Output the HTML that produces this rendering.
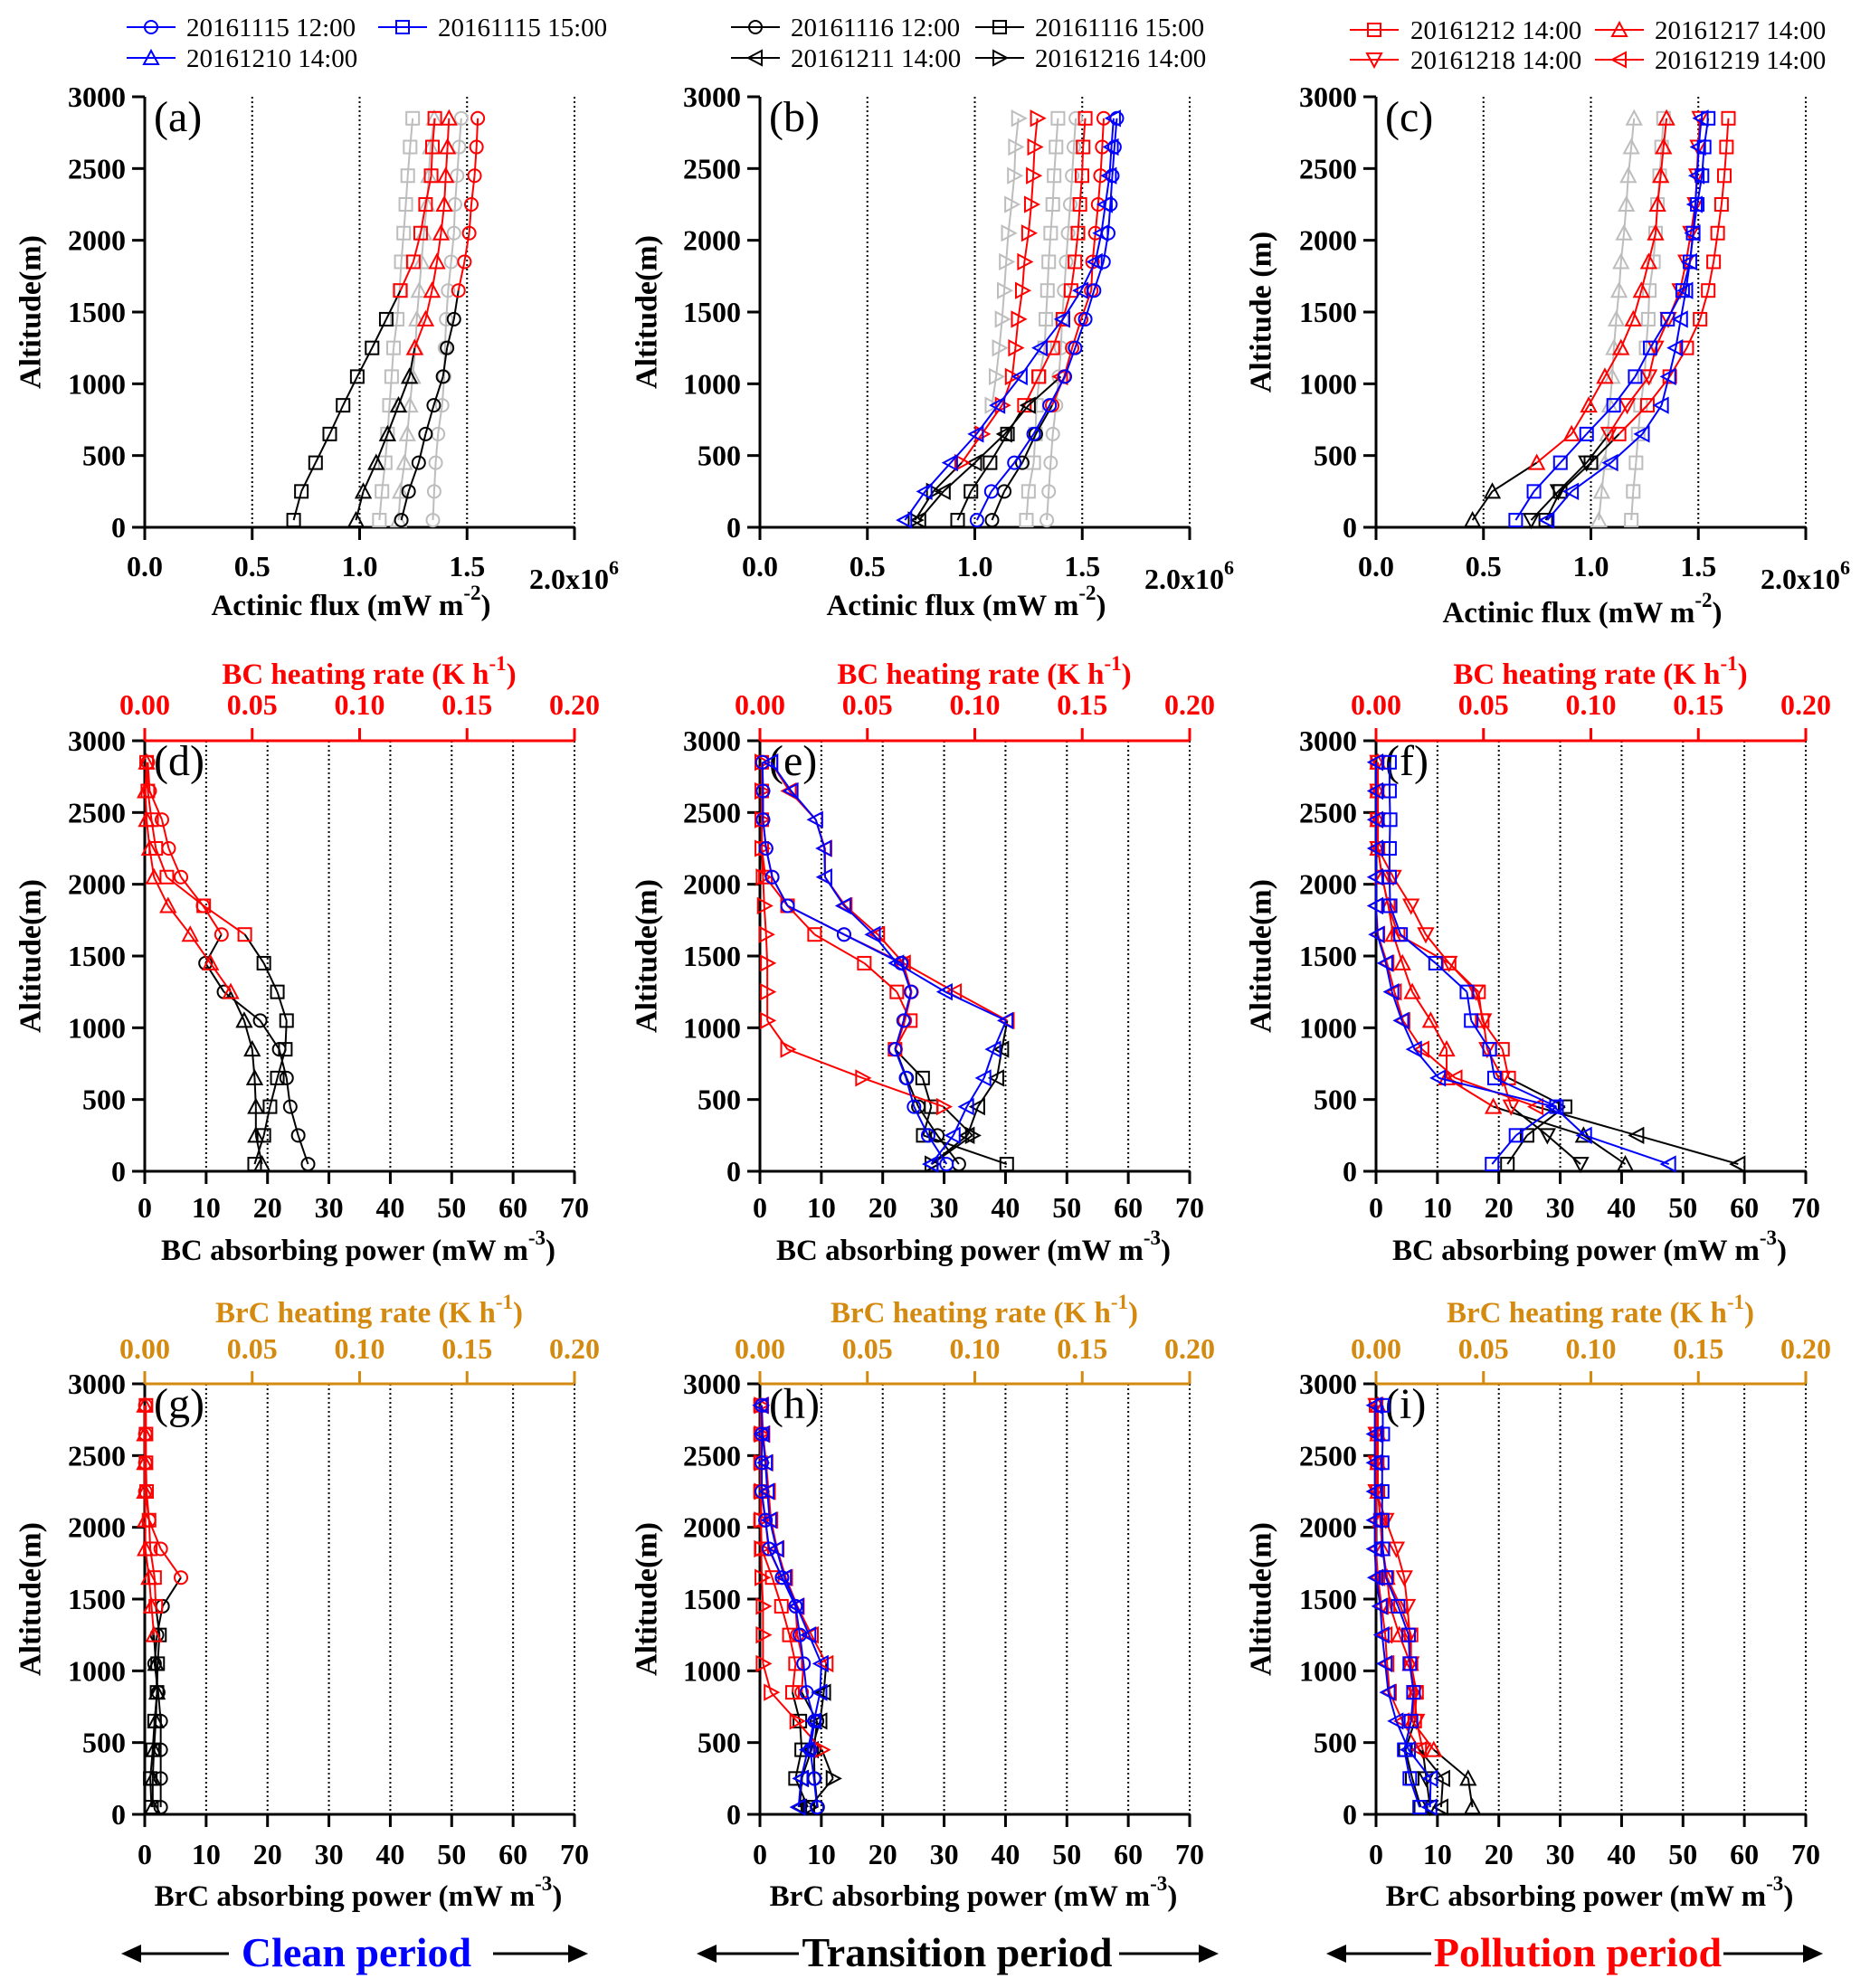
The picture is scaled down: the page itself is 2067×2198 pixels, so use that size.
<!DOCTYPE html>
<html><head><meta charset="utf-8">
<style>
html,body{margin:0;padding:0;background:#fff;}
svg{display:block;}
text{font-family:"Liberation Serif","Times New Roman",serif;}
</style></head>
<body>
<svg id="fig" xmlns="http://www.w3.org/2000/svg" width="2067" height="2198" viewBox="0 0 2067 2198"></svg>
<script>
// ---------- data ----------
const altitudes = [50,250,450,650,850,1050,1250,1450,1650,1850,2050,2250,2450,2650,2850];
const fluxTicks = [0.0,0.5,1.0,1.5];
const fluxTickLabels = ["0.0","0.5","1.0","1.5"];
const powerTicks = [0,10,20,30,40,50,60,70];
const powerTickLabels = ["0","10","20","30","40","50","60","70"];
const heatTicks = [0,0.05,0.10,0.15,0.20];
const heatTickLabels = ["0.00","0.05","0.10","0.15","0.20"];
const altTicks = [0,500,1000,1500,2000,2500,3000];
const altTickLabels = ["0","500","1000","1500","2000","2500","3000"];

// panel a (actinic flux x1e6)
const a_square = [0.693,0.729,0.795,0.861,0.923,0.989,1.058,1.124,1.19,1.25,1.284,1.307,1.333,1.339,1.35];
const a_triangle = [0.983,1.017,1.077,1.13,1.181,1.232,1.256,1.307,1.337,1.36,1.379,1.394,1.401,1.409,1.416];
const a_circle = [1.194,1.228,1.275,1.307,1.345,1.388,1.407,1.439,1.46,1.488,1.51,1.52,1.535,1.544,1.55];
const a_gray_square = [1.092,1.104,1.119,1.13,1.139,1.149,1.158,1.175,1.186,1.194,1.205,1.215,1.224,1.235,1.247];
const a_gray_triangle = [1.181,1.19,1.209,1.222,1.234,1.247,1.26,1.266,1.277,1.288,1.299,1.313,1.322,1.33,1.347];
const a_gray_circle = [1.341,1.347,1.354,1.365,1.384,1.394,1.397,1.403,1.412,1.426,1.439,1.444,1.454,1.463,1.473];

// panel b
const b_blue_circle = [1.01,1.077,1.184,1.274,1.348,1.419,1.467,1.514,1.555,1.599,1.621,1.631,1.64,1.65,1.661];
const b_circle = [1.08,1.137,1.221,1.284,1.36,1.416,1.453,1.495,1.542,1.548,1.561,1.574,1.585,1.593,1.6];
const b_square = [0.92,0.982,1.071,1.152,1.231,1.297,1.363,1.41,1.448,1.466,1.48,1.489,1.499,1.504,1.514];
const b_blue_left = [0.675,0.769,0.888,1.008,1.108,1.212,1.306,1.41,1.495,1.561,1.589,1.608,1.627,1.636,1.646];
const b_left = [0.74,0.854,1.0,1.14,1.25,1.4,null,null,null,null,null,null,null,null,null];
const b_right = [0.722,0.807,0.939,1.033,1.127,1.174,1.189,1.202,1.221,1.231,1.25,1.263,1.272,1.278,1.291];
const b_gray_square = [1.24,1.25,1.274,1.282,1.287,1.301,1.325,1.331,1.338,1.344,1.353,1.363,1.369,1.378,1.387];
const b_gray_circle = [1.335,1.344,1.353,1.363,1.378,1.391,1.401,1.406,1.416,1.425,1.434,1.444,1.453,1.461,1.47];
const b_gray_right = [null,null,null,null,1.08,1.099,1.114,1.127,1.137,1.146,1.156,1.171,1.184,1.189,1.203];

// panel c
const c_square = [0.79,0.857,1.0,1.131,1.263,1.367,1.446,1.508,1.546,1.571,1.59,1.608,1.621,1.631,1.64];
const c_blue_square = [0.65,0.735,0.858,0.98,1.106,1.206,1.276,1.357,1.427,1.461,1.476,1.495,1.517,1.527,1.546];
const c_up = [0.449,0.541,0.748,0.91,0.99,1.065,1.14,1.197,1.235,1.269,1.301,1.31,1.325,1.338,1.352];
const c_down = [0.722,0.848,0.98,1.084,1.169,1.27,1.301,1.36,1.415,1.443,1.465,1.486,1.493,1.499,1.508];
const c_blue_left = [0.797,0.91,1.093,1.24,1.329,1.363,1.395,1.418,1.442,1.461,1.476,1.486,1.495,1.502,1.514];
const c_gray_up = [1.037,1.05,1.065,1.078,1.088,1.099,1.107,1.118,1.131,1.14,1.154,1.165,1.174,1.188,1.201];
const c_gray_square = [1.188,1.197,1.21,1.22,1.231,1.25,1.257,1.267,1.272,1.291,1.301,1.31,1.32,1.329,1.338];

// panel d (BC absorbing power)
const d_circle = [26.6,25.0,23.7,23.1,21.9,18.8,12.9,9.9,12.5,9.5,5.9,3.9,2.8,0.8,0.5];
const d_square = [17.9,19.4,20.4,21.6,22.9,23.1,21.6,19.4,16.3,9.6,3.6,1.8,1.1,0.5,0.3];
const d_triangle = [19.1,18.1,18.1,17.9,17.5,16.2,14.0,10.7,7.4,3.8,1.5,0.8,0.3,0.1,0.3];

// panel e
const e_blue_circle = [30.4,27.4,25.1,23.8,22.0,23.4,24.6,23.0,13.7,4.5,2.0,1.0,0.5,0.5,0.4];
const e_circle = [32.4,28.9,25.8,23.9,22.1,23.6,24.7,23.3,13.7,4.5,2.0,1.0,0.5,0.5,0.4];
const e_square = [40.2,26.6,27.9,26.5,22.0,24.5,22.3,17.0,8.9,4.5,0.9,0.3,0.3,0.3,0.3];
const e_left = [27.9,33.8,35.5,38.6,39.4,40.3,31.7,23.4,19.2,13.9,10.6,10.6,9.1,4.8,1.8];
const e_blue_left = [27.9,31.5,33.7,36.5,38.1,40.1,30.2,22.3,18.5,13.7,10.6,10.5,9.1,5.1,1.8];
const e_right = [28.0,34.6,29.9,16.7,4.5,1.2,1.2,1.2,1.0,0.7,0.5,0.3,0.3,0.3,0.3];

// panel f
const f_square = [21.4,24.6,30.8,21.6,20.6,17.3,16.7,11.9,3.6,2.0,1.0,0.3,0.2,0.2,0.2];
const f_blue_square = [18.9,22.8,29.4,19.3,18.5,15.5,14.8,9.7,4.0,2.3,2.2,2.2,2.3,2.2,2.2];
const f_up = [40.6,33.8,19.1,11.5,11.5,8.9,5.9,4.3,2.8,2.0,1.0,0.3,0.3,0.3,0.3];
const f_down = [33.3,27.9,22.0,20.6,18.1,17.5,16.3,11.9,8.1,5.7,2.8,0.3,0.3,0.3,0.3];
const f_left = [59.0,42.5,26.1,12.9,7.5,4.4,3.0,1.8,0.3,0.0,0.0,0.0,0.0,0.0,0.0];
const f_blue_left = [47.7,34.0,29.0,10.2,6.3,4.2,2.6,1.6,0.2,0.0,0.0,0.0,0.0,0.0,0.0];

// panel g (BrC absorbing power)
const g_circle = [2.6,2.6,2.6,2.6,2.2,1.6,2.0,2.9,5.9,2.6,0.7,0.1,0.1,0.1,0.1];
const g_square = [1.1,0.9,1.3,1.6,2.0,2.1,2.4,1.8,1.6,0.9,0.7,0.3,0.2,0.2,0.2];
const g_triangle = [1.3,1.3,1.5,1.8,2.0,1.8,1.5,1.1,0.7,0.1,0.1,0.0,0.0,0.0,0.0];

// panel h
const h_blue_circle = [9.3,8.8,8.2,8.9,7.6,7.1,6.5,5.8,3.6,1.5,0.9,0.3,0.3,0.3,0.3];
const h_circle = [9.4,8.9,8.8,9.3,6.8,7.1,6.1,5.8,3.6,1.4,0.9,0.2,0.2,0.2,0.2];
const h_square = [7.8,5.8,6.8,6.5,5.3,5.8,4.8,3.5,2.0,0.3,0.1,0.1,0.1,0.1,0.1];
const h_left = [6.5,6.8,8.4,9.8,10.4,10.8,8.4,6.1,4.2,2.8,1.8,1.4,1.0,0.5,0.3];
const h_blue_left = [6.3,6.7,7.8,8.8,9.8,10.0,8.0,6.0,4.0,2.7,1.6,1.2,0.9,0.4,0.2];
const h_right = [8.1,11.9,10.1,6.0,1.8,0.5,0.5,0.5,0.3,0.2,0.2,0.2,0.2,0.2,0.2];

// panel i
const i_square = [7.3,5.9,4.8,6.3,6.6,5.7,5.7,4.0,1.8,1.1,0.7,0.3,0.2,0.2,0.0];
const i_blue_square = [7.1,5.5,4.6,5.7,6.1,5.5,5.3,3.6,1.6,1.1,1.0,1.0,1.0,1.1,1.1];
const i_up = [15.7,15.0,9.4,5.9,6.3,5.6,3.8,2.3,1.8,1.0,0.7,0.3,0.3,0.3,0.3];
const i_down = [8.8,8.2,7.6,6.6,6.3,5.7,5.5,5.1,4.6,3.3,1.6,0.0,0.0,0.0,0.0];
const i_left = [10.6,10.9,7.1,4.3,2.2,1.8,1.5,0.9,0.3,0.0,0.0,0.0,0.0,0.0,0.0];
const i_blue_left = [8.8,8.9,5.3,3.3,2.0,1.5,1.0,0.7,0.0,-0.2,-0.2,-0.2,-0.2,-0.2,-0.2];

// ---------- drawing ----------
const NS = "http://www.w3.org/2000/svg";
const svg = document.getElementById("fig");
const COL = {k:"#000000", r:"#ff0000", b:"#0000ff", g:"#bdbdbd"};
const BRC = "#d4890f";
const W = 475;
const ROWS = [{yt:107,yb:583},{yt:819,yb:1295},{yt:1530,yb:2006}];
const COLS = [160,840,1521];

function mk(tag, attrs, parent){
  const e = document.createElementNS(NS, tag);
  for (const k in attrs) e.setAttribute(k, attrs[k]);
  (parent || svg).appendChild(e);
  return e;
}
function txt(x, y, str, size, opts, parent){
  const e = mk("text", Object.assign({x:x, y:y, "font-size":size}, opts||{}), parent);
  e.textContent = str;
  return e;
}

function marker(g, type, x, y, color){
  const r = 7;
  let e;
  if (type === "circle") e = mk("circle", {cx:x, cy:y, r:r}, g);
  else if (type === "square") e = mk("rect", {x:x-r, y:y-r, width:2*r, height:2*r}, g);
  else {
    let p;
    if (type === "up") p = [[x,y-r-1],[x-r-1,y+r],[x+r+1,y+r]];
    else if (type === "down") p = [[x,y+r+1],[x-r-1,y-r],[x+r+1,y-r]];
    else if (type === "left") p = [[x-r-1,y],[x+r,y-r-1],[x+r,y+r+1]];
    else p = [[x+r+1,y],[x-r,y-r-1],[x-r,y+r+1]];
    e = mk("polygon", {points:p.map(q=>q.join(",")).join(" ")}, g);
  }
  e.setAttribute("fill", "none");
  e.setAttribute("stroke", color);
  e.setAttribute("stroke-width", "2");
  
  
}

function drawSeries(p, vals, type, colors, name){
  const g = mk("g", {});
  
  
  for (let i = 0; i < vals.length - 1; i++){
    if (vals[i] === null || vals[i+1] === null) continue;
    const ln = mk("line", {x1:p.sx(vals[i]), y1:p.sy(altitudes[i]), x2:p.sx(vals[i+1]), y2:p.sy(altitudes[i+1]),
      stroke:COL[colors[i]], "stroke-width":2}, g);
    
    
  }
  for (let i = 0; i < vals.length; i++){
    if (vals[i] === null) continue;
    marker(g, type, p.sx(vals[i]), p.sy(altitudes[i]), COL[colors[i]]);
  }
}

function makePanel(col, row, kind, letter){
  const x0 = COLS[col], R = ROWS[row];
  const xmax = kind === "flux" ? 2.0 : 70;
  const p = {
    sx: v => x0 + v / xmax * W,
    sy: a => R.yb - a / 3000 * (R.yb - R.yt)
  };
  const g = mk("g", {});
  
  
  const grid = kind === "flux" ? [0.5,1.0,1.5,2.0] : [10,20,30,40,50,60,70];
  grid.forEach(v => {
    const l = mk("line", {x1:p.sx(v), y1:R.yt, x2:p.sx(v), y2:R.yb, stroke:"#000", "stroke-width":2, "stroke-dasharray":"2,3"}, g);
    
    
  });
  const ya = mk("line", {x1:x0, y1:R.yt, x2:x0, y2:R.yb+14, stroke:"#000", "stroke-width":3}, g);
  
  
  altTicks.forEach((a, i) => {
    const t = mk("line", {x1:x0-14, y1:p.sy(a), x2:x0, y2:p.sy(a), stroke:"#000", "stroke-width":3}, g);
    
    
    const lb = txt(x0-21, p.sy(a)+11, altTickLabels[i], 32, {"font-weight":"bold","text-anchor":"end"}, g);
    
    
  });
  const xa = mk("line", {x1:x0-14, y1:R.yb, x2:x0+W, y2:R.yb, stroke:"#000", "stroke-width":3}, g);
  
  
  const ticks = kind === "flux" ? fluxTicks.concat([2.0]) : powerTicks;
  ticks.forEach(v => {
    const t = mk("line", {x1:p.sx(v), y1:R.yb, x2:p.sx(v), y2:R.yb+14, stroke:"#000", "stroke-width":3}, g);
    
    
  });
  if (kind === "flux"){
    fluxTicks.forEach((v, i) => {
      const lb = txt(p.sx(v), 637, fluxTickLabels[i], 32, {"font-weight":"bold","text-anchor":"middle"}, g);
      
      
    });
    const e = txt(x0+425, 651, "2.0x10", 32, {"font-weight":"bold"}, g);
    const s = document.createElementNS(NS, "tspan");
    s.setAttribute("dy", "-16"); s.setAttribute("font-size", "22"); s.textContent = "6";
    e.appendChild(s);
    
    
    const tt = txt(x0+228, col === 2 ? 688 : 680, "Actinic flux (mW m", 33, {"font-weight":"bold","text-anchor":"middle"}, g);
    const s2 = document.createElementNS(NS, "tspan");
    s2.setAttribute("dy", "-17"); s2.setAttribute("font-size", "23"); s2.textContent = "-2";
    tt.appendChild(s2);
    const s3 = document.createElementNS(NS, "tspan");
    s3.setAttribute("dy", "17"); s3.textContent = ")";
    tt.appendChild(s3);
    
    
  } else {
    const rowBase = row === 1 ? {tick:1346, title:1393, ttl:756, ttick:790} : {tick:2061, title:2107, ttl:1462, ttick:1502};
    powerTicks.forEach((v, i) => {
      const lb = txt(p.sx(v), rowBase.tick, powerTickLabels[i], 32, {"font-weight":"bold","text-anchor":"middle"}, g);
      
      
    });
    const species = row === 1 ? "BC" : "BrC";
    const tcol = row === 1 ? "#ff0000" : BRC;
    const tt = txt(x0+236, rowBase.title, species + " absorbing power (mW m", 33, {"font-weight":"bold","text-anchor":"middle"}, g);
    const s2 = document.createElementNS(NS, "tspan");
    s2.setAttribute("dy", "-17"); s2.setAttribute("font-size", "23"); s2.textContent = "-3";
    tt.appendChild(s2);
    const s3 = document.createElementNS(NS, "tspan");
    s3.setAttribute("dy", "17"); s3.textContent = ")";
    tt.appendChild(s3);
    
    
    const ta = mk("line", {x1:x0, y1:R.yt, x2:x0+W, y2:R.yt, stroke:tcol, "stroke-width":3}, g);
    
    
    heatTicks.forEach((v, i) => {
      const hx = x0 + v / 0.2 * W;
      const t = mk("line", {x1:hx, y1:R.yt-14, x2:hx, y2:R.yt, stroke:tcol, "stroke-width":3}, g);
      
      
      const lb = txt(hx, rowBase.ttick, heatTickLabels[i], 32, {"font-weight":"bold","text-anchor":"middle", fill:tcol}, g);
      
      
    });
    const ht = txt(x0+248, rowBase.ttl, species + " heating rate (K h", 33, {"font-weight":"bold","text-anchor":"middle", fill:tcol}, g);
    const s4 = document.createElementNS(NS, "tspan");
    s4.setAttribute("dy", "-15"); s4.setAttribute("font-size", "23"); s4.textContent = "-1";
    ht.appendChild(s4);
    const s5 = document.createElementNS(NS, "tspan");
    s5.setAttribute("dy", "15"); s5.textContent = ")";
    ht.appendChild(s5);
    
    
  }
  const yx = col === 0 ? 34 : (col === 1 ? 715 : 1394);
  const yc = (R.yt + R.yb) / 2;
  const ytl = txt(yx, yc, (col === 2 && row === 0) ? "Altitude (m)" : "Altitude(m)", 34,
    {"font-weight":"bold","text-anchor":"middle", "dominant-baseline":"central", transform:"rotate(-90 " + yx + " " + yc + ")"}, g);
  
  
  const lt = txt(x0+10, R.yt+38, "(" + letter + ")", 48, {}, g);
  
  
  return p;
}

let p;
p = makePanel(0,0,"flux","a");
drawSeries(p, a_gray_square, "square", "ggggggggggggggg", "series-a-gray-square");
drawSeries(p, a_gray_triangle, "up", "ggggggggggggggg", "series-a-gray-triangle");
drawSeries(p, a_gray_circle, "circle", "ggggggggggggggg", "series-a-gray-circle");
drawSeries(p, a_square, "square", "kkkkkkkkrrrrrrr", "series-20161115-1500");
drawSeries(p, a_triangle, "up", "kkkkkkrrrrrrrrr", "series-20161210-1400");
drawSeries(p, a_circle, "circle", "kkkkkkkkrrrrrrr", "series-20161115-1200");

p = makePanel(1,0,"flux","b");
drawSeries(p, b_gray_square, "square", "ggggggggggggggg", "series-b-gray-square");
drawSeries(p, b_gray_circle, "circle", "ggggggggggggggg", "series-b-gray-circle");
drawSeries(p, b_gray_right, "right", "ggggggggggggggg", "series-b-gray-right");
drawSeries(p, b_circle, "circle", "kkkkrrrrrrrrrrr", "series-20161116-1200");
drawSeries(p, b_square, "square", "kkkkrrrrrrrrrrr", "series-20161116-1500");
drawSeries(p, b_left, "left", "kkkkkrrrrrrrrrr", "series-20161211-1400");
drawSeries(p, b_right, "right", "kkrrrrrrrrrrrrr", "series-20161216-1400");
drawSeries(p, b_blue_circle, "circle", "bbbbbbbbbbbbbbb", "series-b-blue-circle");
drawSeries(p, b_blue_left, "left", "bbbbbbbbbbbbbbb", "series-b-blue-left");

p = makePanel(2,0,"flux","c");
drawSeries(p, c_gray_up, "up", "ggggggggggggggg", "series-c-gray-up");
drawSeries(p, c_gray_square, "square", "ggggggggggggggg", "series-c-gray-square");
drawSeries(p, c_square, "square", "kkkrrrrrrrrrrrr", "series-20161212-1400");
drawSeries(p, c_up, "up", "kkrrrrrrrrrrrrr", "series-20161217-1400");
drawSeries(p, c_down, "down", "kkkrrrrrrrrrrrr", "series-20161218-1400");
drawSeries(p, c_blue_square, "square", "bbbbbbbbbbbbbbb", "series-c-blue-square");
drawSeries(p, c_blue_left, "left", "bbbbbbbbbbbbbbb", "series-20161219-1400");

p = makePanel(0,1,"power","d");
drawSeries(p, d_circle, "circle", "kkkkkkkkrrrrrrr", "series-d-circle");
drawSeries(p, d_square, "square", "kkkkkkkkrrrrrrr", "series-d-square");
drawSeries(p, d_triangle, "up", "kkkkkkrrrrrrrrr", "series-d-triangle");

p = makePanel(1,1,"power","e");
drawSeries(p, e_circle, "circle", "kkkkrrrrrrrrrrr", "series-e-circle");
drawSeries(p, e_square, "square", "kkkkrrrrrrrrrrr", "series-e-square");
drawSeries(p, e_left, "left", "kkkkkrrrrrrrrrr", "series-e-left");
drawSeries(p, e_right, "right", "kkrrrrrrrrrrrrr", "series-e-right");
drawSeries(p, e_blue_circle, "circle", "bbbbbbbbbbbbbbb", "series-e-blue-circle");
drawSeries(p, e_blue_left, "left", "bbbbbbbbbbbbbbb", "series-e-blue-left");

p = makePanel(2,1,"power","f");
drawSeries(p, f_square, "square", "kkkrrrrrrrrrrrr", "series-f-square");
drawSeries(p, f_up, "up", "kkrrrrrrrrrrrrr", "series-f-up");
drawSeries(p, f_down, "down", "kkrrrrrrrrrrrrr", "series-f-down");
drawSeries(p, f_left, "left", "kkrrrrrrrrrrrrr", "series-f-left");
drawSeries(p, f_blue_square, "square", "bbbbbbbbbbbbbbb", "series-f-blue-square");
drawSeries(p, f_blue_left, "left", "bbbbbbbbbbbbbbb", "series-f-blue-left");

p = makePanel(0,2,"power","g");
drawSeries(p, g_circle, "circle", "kkkkkkkkrrrrrrr", "series-g-circle");
drawSeries(p, g_square, "square", "kkkkkkkrrrrrrrr", "series-g-square");
drawSeries(p, g_triangle, "up", "kkkkkkrrrrrrrrr", "series-g-triangle");

p = makePanel(1,2,"power","h");
drawSeries(p, h_circle, "circle", "kkkkrrrrrrrrrrr", "series-h-circle");
drawSeries(p, h_square, "square", "kkkkrrrrrrrrrrr", "series-h-square");
drawSeries(p, h_left, "left", "kkkkkrrrrrrrrrr", "series-h-left");
drawSeries(p, h_right, "right", "kkrrrrrrrrrrrrr", "series-h-right");
drawSeries(p, h_blue_circle, "circle", "bbbbbbbbbbbbbbb", "series-h-blue-circle");
drawSeries(p, h_blue_left, "left", "bbbbbbbbbbbbbbb", "series-h-blue-left");

p = makePanel(2,2,"power","i");
drawSeries(p, i_square, "square", "kkkrrrrrrrrrrrr", "series-i-square");
drawSeries(p, i_up, "up", "kkrrrrrrrrrrrrr", "series-i-up");
drawSeries(p, i_down, "down", "kkrrrrrrrrrrrrr", "series-i-down");
drawSeries(p, i_left, "left", "kkrrrrrrrrrrrrr", "series-i-left");
drawSeries(p, i_blue_square, "square", "bbbbbbbbbbbbbbb", "series-i-blue-square");
drawSeries(p, i_blue_left, "left", "bbbbbbbbbbbbbbb", "series-i-blue-left");

// ---------- legends ----------
const legendLabels = [
  ["20161115 12:00","20161115 15:00","20161210 14:00"],
  ["20161116 12:00","20161116 15:00","20161211 14:00","20161216 14:00"],
  ["20161212 14:00","20161217 14:00","20161218 14:00","20161219 14:00"]
];
const legendMarkers = [["circle","square","up"],["circle","square","left","right"],["square","up","down","left"]];
const legendColors = ["#0000ff","#000000","#ff0000"];
const legendGeom = [
  {lx:[140,418], tx:[206,484], ry:[30,64]},
  {lx:[808,1078], tx:[874,1144], ry:[30,64]},
  {lx:[1492,1763], tx:[1559,1829], ry:[33,66]}
];
legendLabels.forEach((labels, c) => {
  const G = legendGeom[c];
  const lg = mk("g", {});
  
  
  labels.forEach((lab, i) => {
    const colI = i % 2, rowI = Math.floor(i / 2);
    const y = G.ry[rowI], lx = G.lx[colI];
    const entry = mk("g", {}, lg);
    
    
    const l = mk("line", {x1:lx, y1:y, x2:lx+54, y2:y, stroke:legendColors[c], "stroke-width":2}, entry);
    
    
    marker(entry, legendMarkers[c][i], lx+27, y, legendColors[c]);
    const t = txt(G.tx[colI], y+10, lab, 29, {}, entry);
    
    
  });
});

// ---------- period labels ----------
const periods = [
  {text:"Clean period", color:"#0000ff", tx:394, a1:[134,253], a2:[545,650]},
  {text:"Transition period", color:"#000000", tx:1058, a1:[770,883], a2:[1237,1347]},
  {text:"Pollution period", color:"#ff0000", tx:1744, a1:[1466,1582], a2:[1905,2015]}
];
periods.forEach(pd => {
  const pg = mk("g", {});
  
  
  const t = txt(pd.tx, 2174, pd.text, 46, {"font-weight":"bold","text-anchor":"middle", fill:pd.color}, pg);
  
  
  const y = 2160;
  const l1 = mk("line", {x1:pd.a1[0]+18, y1:y, x2:pd.a1[1], y2:y, stroke:"#000", "stroke-width":3}, pg);
  
  
  const h1 = mk("polygon", {points:(pd.a1[0])+","+y+" "+(pd.a1[0]+22)+","+(y-10)+" "+(pd.a1[0]+22)+","+(y+10), fill:"#000"}, pg);
  
  
  const l2 = mk("line", {x1:pd.a2[0], y1:y, x2:pd.a2[1]-18, y2:y, stroke:"#000", "stroke-width":3}, pg);
  
  
  const h2 = mk("polygon", {points:(pd.a2[1])+","+y+" "+(pd.a2[1]-22)+","+(y-10)+" "+(pd.a2[1]-22)+","+(y+10), fill:"#000"}, pg);
  
  
});
</script>
</body></html>
